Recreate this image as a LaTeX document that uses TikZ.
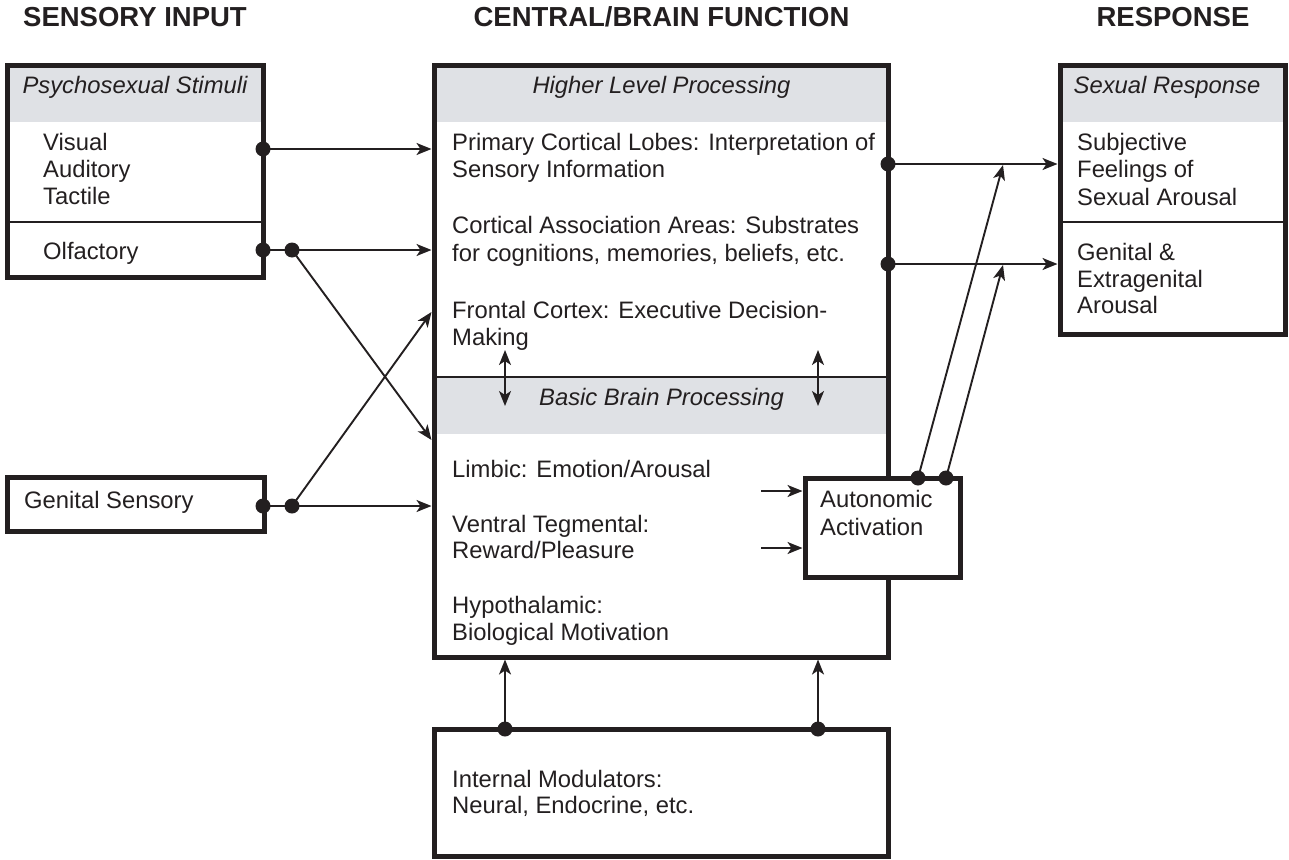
\documentclass[tikz,border=0pt]{standalone}
\usepackage{fontspec}
\setmainfont{Liberation Sans}
\usetikzlibrary{arrows.meta}
\definecolor{ink}{HTML}{231F20}
\definecolor{hdrgray}{HTML}{DFE1E5}
\newcommand\bodyfnt{\fontsize{23.8}{27}\selectfont}
\newcommand\titlefnt{\fontsize{27.5}{30}\selectfont\bfseries}
\tikzset{
  box/.style={draw=ink, line width=5pt, inner sep=0pt, rectangle},
  txt/.style={anchor=base west, inner sep=0pt, font=\bodyfnt, text=ink},
  hdr/.style={anchor=base, inner sep=0pt, font=\bodyfnt\itshape, text=ink},
  ttl/.style={anchor=base, inner sep=0pt, font=\titlefnt, text=ink},
  conn/.style={draw=ink, line width=1.9pt, -{Stealth[length=15pt,width=12pt,inset=4pt]}},
  dconn/.style={draw=ink, line width=1.9pt, {Stealth[length=15pt,width=12pt,inset=4pt]}-{Stealth[length=15pt,width=12pt,inset=4pt]}},
  divider/.style={draw=ink, line width=2pt},
  dot/.style={fill=ink, circle, inner sep=0pt, minimum size=15pt}
}
\begin{document}
\begin{tikzpicture}[x=1pt,y=-1pt]
\useasboundingbox (0,0) rectangle (1289,859);
% titles
\node[ttl] (t1) at (135,27) {SENSORY INPUT};
\node[ttl] (t2) at (661.5,27) {CENTRAL/BRAIN FUNCTION};
\node[ttl] (t3) at (1173,27) {RESPONSE};
% gray header bands
\fill[hdrgray] (7.5,65) rectangle (263,122);
\fill[hdrgray] (434,65) rectangle (888,122);
\fill[hdrgray] (434,377) rectangle (888,434);
\fill[hdrgray] (1060,65) rectangle (1285,122);
% dividers
\draw[divider] (7.5,222) -- (263,222);
\draw[divider] (1060,222) -- (1285,222);
\draw[divider] (434,377) -- (888,377);
% boxes
\node[box, minimum width=255.5pt, minimum height=212.5pt] (stim) at (135.25,171.25) {};
\node[box, minimum width=256.5pt, minimum height=54pt] (gen) at (135.75,504) {};
\node[box, minimum width=454pt, minimum height=592pt] (cent) at (661,361) {};
\node[box, minimum width=454pt, minimum height=127pt] (intm) at (661,792.5) {};
\node[box, minimum width=225pt, minimum height=269pt] (resp) at (1172.5,199.5) {};
\node[box, fill=white, minimum width=155pt, minimum height=99pt] (auto) at (882.5,527.5) {};
% left texts
\node[hdr] (h1) at (135,93) {Psychosexual Stimuli};
\node[txt] (v1) at (43,150) {Visual};
\node[txt] (v2) at (43,177) {Auditory};
\node[txt] (v3) at (43,204) {Tactile};
\node[txt] (olf) at (43,259) {Olfactory};
\node[txt] (gs) at (24,508) {Genital Sensory};
% central texts
\node[hdr] (h2) at (661.5,93) {Higher Level Processing};
\node[txt] (c1) at (452,150) {Primary Cortical Lobes: Interpretation of};
\node[txt] (c2) at (452,177) {Sensory Information};
\node[txt] (c3) at (452,233) {Cortical Association Areas: Substrates};
\node[txt] (c4) at (452,261) {for cognitions, memories, beliefs, etc.};
\node[txt] (c5) at (452,318) {Frontal Cortex: Executive Decision-};
\node[txt] (c6) at (452,345) {Making};
\node[hdr] (h3) at (661.5,405) {Basic Brain Processing};
\node[txt] (b1) at (452,477) {Limbic: Emotion/Arousal};
\node[txt] (b2) at (452,532) {Ventral Tegmental:};
\node[txt] (b3) at (452,558) {Reward/Pleasure};
\node[txt] (b4) at (452,613) {Hypothalamic:};
\node[txt] (b5) at (452,640) {Biological Motivation};
\node[txt] (a1) at (820,507) {Autonomic};
\node[txt] (a2) at (820,535) {Activation};
\node[txt] (i1) at (452,787) {Internal Modulators:};
\node[txt] (i2) at (452,813) {Neural, Endocrine, etc.};
% response texts
\node[hdr] (h4) at (1167,93) {Sexual Response};
\node[txt] (r1) at (1077,150) {Subjective};
\node[txt] (r2) at (1077,177) {Feelings of};
\node[txt] (r3) at (1077,205) {Sexual Arousal};
\node[txt] (r4) at (1077,260) {Genital \&};
\node[txt] (r5) at (1077,287) {Extragenital};
\node[txt] (r6) at (1077,313) {Arousal};
% connection points
\coordinate (dVis) at (263,149);
\coordinate (dOlf) at (263,250);
\coordinate (dOlf2) at (292,250);
\coordinate (dGen) at (263,506);
\coordinate (dGen2) at (292,506);
\coordinate (eVis) at (431.5,149);
\coordinate (eOlf) at (431.5,250);
\coordinate (eOlfX) at (431.5,440);
\coordinate (eGenX) at (431.5,312);
\coordinate (eGen) at (431.5,506);
\coordinate (dC1) at (888,164);
\coordinate (dC2) at (888,264);
\coordinate (eR1) at (1057.5,164);
\coordinate (eR2) at (1057.5,264);
\coordinate (dA1) at (918,478);
\coordinate (dA2) at (946,478);
\coordinate (eA1) at (1003,165);
\coordinate (eA2) at (1003,265);
\coordinate (sA1) at (761,491);
\coordinate (sA2) at (761,548);
\coordinate (eAu1) at (802.5,491);
\coordinate (eAu2) at (802.5,548);
\coordinate (dd1t) at (505,350);
\coordinate (dd1b) at (505,406);
\coordinate (dd2t) at (818,350);
\coordinate (dd2b) at (818,406);
\coordinate (dI1) at (505,729);
\coordinate (dI2) at (818,729);
\coordinate (eI1) at (505,659.5);
\coordinate (eI2) at (818,659.5);
% connectors
\draw[conn] (dVis) -- (eVis);
\draw[conn] (dOlf) -- (eOlf);
\draw[conn] (dOlf2) -- (eOlfX);
\draw[conn] (dGen2) -- (eGenX);
\draw[conn] (dGen) -- (eGen);
\draw[conn] (dC1) -- (eR1);
\draw[conn] (dC2) -- (eR2);
\draw[conn] (dA1) -- (eA1);
\draw[conn] (dA2) -- (eA2);
\draw[conn] (sA1) -- (eAu1);
\draw[conn] (sA2) -- (eAu2);
\draw[dconn] (dd1t) -- (dd1b);
\draw[dconn] (dd2t) -- (dd2b);
\draw[conn] (dI1) -- (eI1);
\draw[conn] (dI2) -- (eI2);
% dots
\foreach \p in {dVis,dOlf,dOlf2,dGen,dGen2,dC1,dC2,dA1,dA2,dI1,dI2}
  \node[dot] at (\p) {};
\end{tikzpicture}
\end{document}
